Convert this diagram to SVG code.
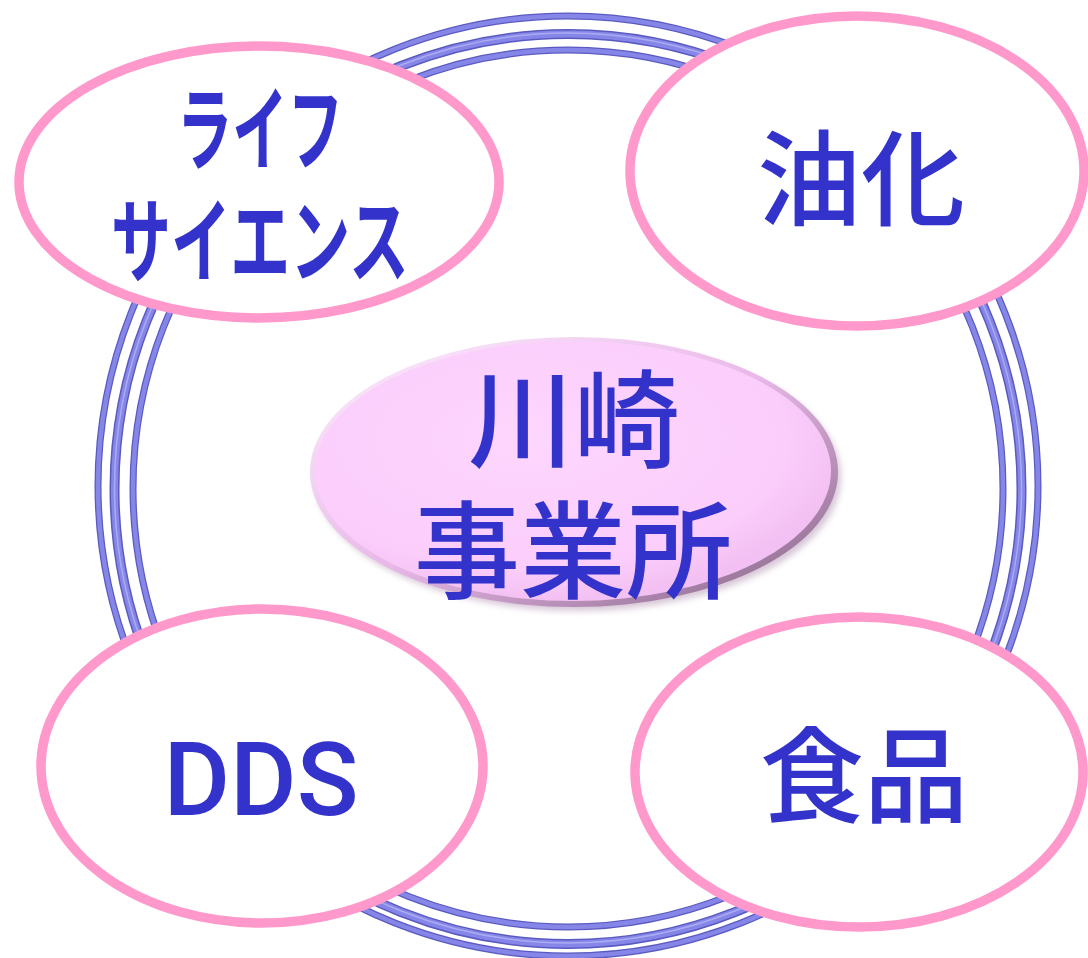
<svg xmlns="http://www.w3.org/2000/svg" width="1088" height="958" viewBox="0 0 1088 958">
<defs>
<style>
.ringD{fill:none;stroke:#5a5ac0}
.ringL{fill:none;stroke:#8686e8}
.ringH{fill:none;stroke:#c4c4fa}
.bub{fill:#ffffff;stroke:#ff99cc;stroke-width:9.5}
.jp{font-family:"Noto Sans CJK JP","Noto Sans",sans-serif;font-weight:500;fill:#3333cc;text-anchor:middle}
.kana{font-weight:700}
.lat{font-family:Roboto,"Liberation Sans",Arial,sans-serif;font-weight:500;fill:#3333cc;text-anchor:middle}
</style>
<radialGradient id="cg" cx="0.42" cy="0.38" r="0.62">
<stop offset="0" stop-color="#fdd6fd"/>
<stop offset="0.8" stop-color="#fbcdfb"/>
<stop offset="1" stop-color="#f2c0f2"/>
</radialGradient>
<linearGradient id="edge" x1="0" y1="0" x2="1" y2="1">
<stop offset="0" stop-color="#fff0ff"/>
<stop offset="0.5" stop-color="#e8b8e8"/>
<stop offset="1" stop-color="#806080"/>
</linearGradient>
<filter id="blur" x="-10%" y="-10%" width="120%" height="120%"><feGaussianBlur stdDeviation="3"/></filter>
</defs>
<rect width="1088" height="958" fill="#ffffff"/>
<g id="ring">
<ellipse class="ringD" cx="568" cy="486" rx="470" ry="470" stroke-width="7"/>
<ellipse class="ringL" cx="568" cy="486" rx="470" ry="470" stroke-width="4.5"/>
<ellipse class="ringD" cx="568" cy="489" rx="453.5" ry="455" stroke-width="10"/>
<ellipse class="ringL" cx="568" cy="489" rx="453.5" ry="455" stroke-width="7"/>
<ellipse class="ringH" cx="568" cy="488" rx="453.5" ry="455" stroke-width="1.5" opacity="0.6"/>
<ellipse class="ringD" cx="568" cy="488.5" rx="435" ry="438.5" stroke-width="7"/>
<ellipse class="ringL" cx="568" cy="488.5" rx="435" ry="438.5" stroke-width="4.5"/>
</g>
<g id="node-life">
<ellipse class="bub" cx="259" cy="182" rx="240" ry="136"/>
<text class="jp kana" x="260" y="163" font-size="92" textLength="166" lengthAdjust="spacingAndGlyphs">ライフ</text>
<text class="jp kana" x="260" y="275" font-size="92" textLength="298" lengthAdjust="spacingAndGlyphs">サイエンス</text>
</g>
<g id="node-yuka">
<ellipse class="bub" cx="857" cy="171" rx="227" ry="155"/>
<text class="jp" x="861" y="218" font-size="104">油化</text>
</g>
<g id="node-dds">
<ellipse class="bub" cx="262" cy="766" rx="221" ry="157"/>
<text class="lat" x="261" y="815" font-size="102">DDS</text>
</g>
<g id="node-food">
<ellipse class="bub" cx="859" cy="772" rx="224" ry="155"/>
<text class="jp" x="864" y="815" font-size="104">食品</text>
</g>
<g id="node-center">
<ellipse cx="578" cy="477" rx="263" ry="134" fill="#b090b0" opacity="0.5" filter="url(#blur)"/>
<ellipse cx="574" cy="472" rx="264" ry="135" fill="url(#edge)"/>
<ellipse cx="573" cy="471" rx="258" ry="130" fill="url(#cg)"/>
<text class="jp" x="574" y="459" font-size="106">川崎</text>
<text class="jp" x="573" y="590" font-size="106">事業所</text>
</g>
</svg>
